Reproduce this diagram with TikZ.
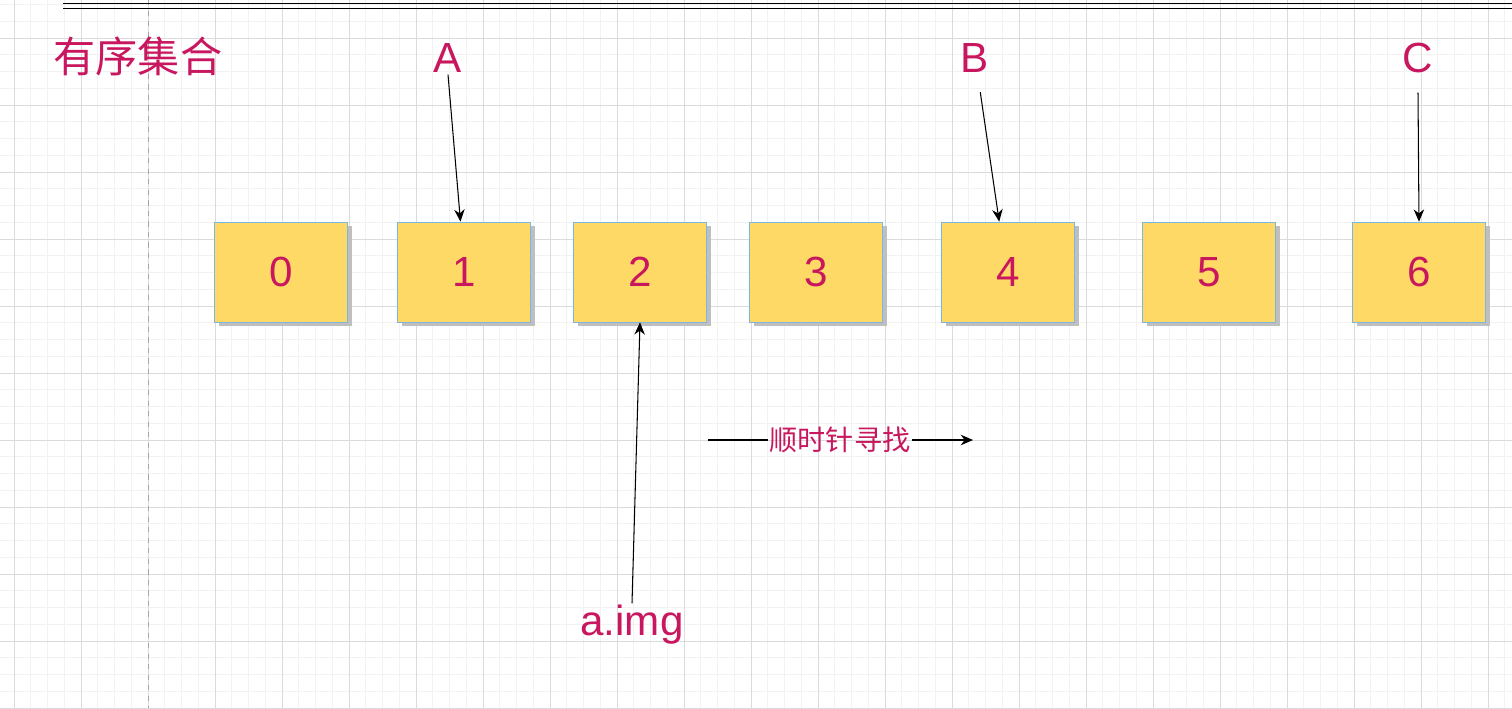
\documentclass[tikz,border=0pt]{standalone}
\usepackage{fontspec}
\setmainfont{Liberation Sans}
\newfontfamily\cjk{Noto Sans CJK SC}
\usetikzlibrary{calc}
\usetikzlibrary{positioning}
\usetikzlibrary{shadows}
\usetikzlibrary{arrows.meta}
\definecolor{keyred}{HTML}{C8175E}
\definecolor{slotfill}{HTML}{FFD966}
\definecolor{slotline}{HTML}{7AB8E0}
\tikzset{
  slot/.style={draw=slotline,fill=slotfill,minimum width=2.66cm,minimum height=2cm,
    inner sep=0pt,font=\fontsize{24}{28}\selectfont,text=keyred,
    drop shadow={shadow xshift=2.5pt,shadow yshift=-2.5pt,fill=black!25,opacity=1}},
  keytext/.style={text=keyred,font=\fontsize{24}{28}\selectfont,inner sep=1pt},
  pointer/.style={-{Stealth[length=7pt,width=6pt]},semithick}
}
\begin{document}
\begin{tikzpicture}[x=0.02cm,y=-0.02cm]
\useasboundingbox (0,0) rectangle (1512,708);

% grid
\foreach \x in {14,30.75,...,1512}
  \draw[black!5] (\x,0) -- (\x,708);
\foreach \y in {4.5,21.25,...,708}
  \draw[black!5] (0,\y) -- (1512,\y);
\foreach \x in {14,81,...,1512}
  \draw[black!14] (\x,0) -- (\x,708);
\foreach \y in {38,105,...,708}
  \draw[black!14] (0,\y) -- (1512,\y);
\draw[black!35,dashed] (148,0) -- (148,708);

% top rule
\draw[black] (63,3) -- (1512,3);
\draw[black] (63,8) -- (1512,8);

\node[keytext,font=\cjk\fontsize{24}{28}\selectfont] (title) at (138,56) {有序集合};

% slots
\foreach \n/\x in {0/281,1/464,2/640,3/816,4/1008,5/1209,6/1419}
  \node[slot] (s\n) at (\x,272) {\n};

\node[keytext] (ka) at (448,58) {A};
\node[keytext] (kb) at (975,58) {B};
\node[keytext] (kc) at (1418,58) {C};
\draw[pointer] (ka.south) -- ([xshift=-2pt]s1.north);
\draw[pointer] ([xshift=3pt,yshift=-10pt]kb.south) -- ([xshift=-5pt]s4.north);
\draw[pointer] ([yshift=-10pt]kc.south) -- (s6.north);

\node[keytext] (img) at (632,625) {a.img};
\draw[pointer] (img.north) -- (s2.south);

\node[text=keyred,font=\cjk\fontsize{16}{20}\selectfont,inner sep=1pt] (dir) at (840,440) {顺时针寻找};
\coordinate (dl) at (708,440);
\coordinate (dr) at (973,440);
\draw[semithick] (dl) -- (dir.west);
\draw[pointer] (dir.east) -- (dr);
\end{tikzpicture}
\end{document}
